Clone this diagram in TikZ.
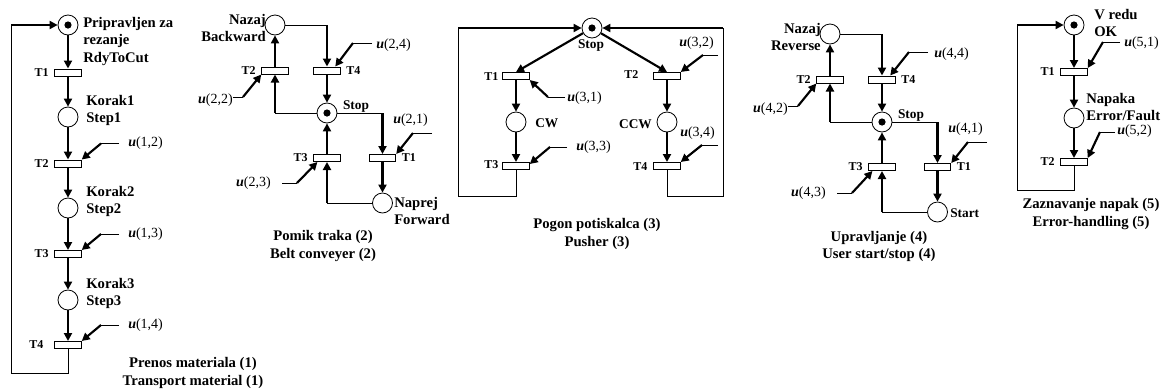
\documentclass[tikz,border=0pt]{standalone}
\usepackage{fontspec}
\setmainfont{Liberation Serif}
\usetikzlibrary{arrows.meta, positioning, calc}

\newcommand{\uvar}[1]{\textbf{\textit{u}}(#1)}

\begin{document}
\begin{tikzpicture}[x=0.75pt, y=-0.75pt,
    place/.style={draw, circle, minimum size=15pt, inner sep=0pt, line width=0.6pt},
    marked/.style={place, path picture={\fill (path picture bounding box.center) circle (2.7pt);}},
    trans/.style={draw, rectangle, minimum width=20pt, minimum height=5.4pt, inner sep=0pt, line width=0.6pt},
    flow/.style={line width=1.6pt, -{Triangle[length=6pt, width=6pt]}},
    link/.style={line width=0.6pt},
    tlab/.style={font=\bfseries\fontsize{9}{10}\selectfont, inner sep=1pt},
    plab/.style={font=\bfseries\fontsize{11}{13}\selectfont, align=left, inner sep=0pt},
    slab/.style={font=\bfseries\fontsize{10}{12}\selectfont, inner sep=0pt},
    ulab/.style={font=\fontsize{10.5}{12}\selectfont, inner sep=0pt},
    netname/.style={font=\bfseries\fontsize{11}{13}\selectfont, align=center, inner sep=0pt},
    label distance=3pt
]
\useasboundingbox (0,0) rectangle (1168,390);

% Transport material (1)
\node[marked] (n1_p1) at (68,25) {};
\node[plab, anchor=north west] (n1_l1) at (83,17) {Pripravljen za\\rezanje\\RdyToCut};
\node[trans, label={[tlab]left:T1}] (n1_t1) at (68,72.5) {};
\node[place] (n1_p2) at (68,117) {};
\node[plab, anchor=north west] (n1_l2) at (86,95) {Korak1\\Step1};
\node[trans, label={[tlab]left:T2}] (n1_t2) at (68,163.5) {};
\node[place] (n1_p3) at (68,208) {};
\node[plab, anchor=north west] (n1_l3) at (86,186) {Korak2\\Step2};
\node[trans, label={[tlab]left:T3}] (n1_t3) at (68,254) {};
\node[place] (n1_p4) at (68,300) {};
\node[plab, anchor=north west] (n1_l4) at (86,278) {Korak3\\Step3};
\node[trans, label={[tlab, label distance=7pt]left:T4}] (n1_t4) at (68,345) {};
\draw[flow] (n1_p1) -- (n1_t1);
\draw[flow] (n1_t1) -- (n1_p2);
\draw[flow] (n1_p2) -- (n1_t2);
\draw[flow] (n1_t2) -- (n1_p3);
\draw[flow] (n1_p3) -- (n1_t3);
\draw[flow] (n1_t3) -- (n1_p4);
\draw[flow] (n1_p4) -- (n1_t4);
% inputs u(1,j)
\foreach \i in {2,3,4} {
    \node[ulab, anchor=west] (n1_u\i) at ($(n1_t\i)+(60,-20)$) {\uvar{1,\i}};
    \coordinate (n1_e\i) at ($(n1_t\i)+(51,-20)$);
    \coordinate (n1_k\i) at ($(n1_t\i)+(33,-20)$);
    \draw[link] (n1_e\i) -- (n1_k\i);
    \draw[flow] (n1_k\i) -- (n1_t\i.north east);
}
% return loop
\coordinate (n1_lb) at (11,373);
\coordinate (n1_lt) at (11,25);
\draw[link] (n1_t4.south) |- (n1_lb) -- (n1_lt);
\draw[flow] (n1_lt) -- (n1_p1);
\node[netname] (n1_name) at (193,373) {Prenos materiala (1)\\Transport material (1)};

% Belt conveyer (2)
\begin{scope}[shift={(327,113)}]
\node[marked] (n2_stop) at (0,0) {};
\node[slab] (n2_stopl) at (29,-7) {Stop};
\node[place] (n2_back) at (-52,-88) {};
\node[plab, align=right, anchor=north east] (n2_backl) at (-61,-99) {Nazaj\\Backward};
\node[trans, label={[tlab]left:T2}] (n2_t2) at (-52,-42.5) {};
\node[trans, label={[tlab]right:T4}] (n2_t4) at (0,-42.5) {};
\node[trans, label={[tlab]left:T3}] (n2_t3) at (0,45) {};
\node[trans, label={[tlab]right:T1}] (n2_t1) at (55.5,45) {};
\node[place] (n2_fwd) at (55.5,90) {};
\node[plab, anchor=north west] (n2_fwdl) at (67,84) {Naprej\\Forward};
\draw[link] (n2_back) -- (n2_back -| n2_t4);
\draw[flow] (n2_back -| n2_t4) -- (n2_t4);
\draw[flow] (n2_t2) -- (n2_back);
\draw[flow] (n2_t4) -- (n2_stop);
\draw[link] (n2_stop) -- (n2_stop -| n2_t2);
\draw[flow] (n2_stop -| n2_t2) -- (n2_t2);
\draw[link] (n2_stop) -- (n2_stop -| n2_t1);
\draw[flow] (n2_stop -| n2_t1) -- (n2_t1);
\draw[flow] (n2_t1) -- (n2_fwd);
\draw[link] (n2_fwd) -- (n2_fwd -| n2_t3);
\draw[flow] (n2_fwd -| n2_t3) -- (n2_t3);
\draw[flow] (n2_t3) -- (n2_stop);
% inputs u(2,j)
\node[ulab, anchor=west] (n2_u4) at (49,-68) {\uvar{2,4}};
\coordinate (n2_e4) at (45,-70);
\coordinate (n2_k4) at (26,-70);
\draw[link] (n2_e4) -- (n2_k4);
\draw[flow] (n2_k4) -- ($(n2_t4.north)!0.6!(n2_t4.north east)$);
\node[ulab, anchor=east] (n2_u2) at (-94,-13) {\uvar{2,2}};
\coordinate (n2_e2) at (-94,-16);
\coordinate (n2_k2) at (-84,-16);
\draw[link] (n2_e2) -- (n2_k2);
\draw[flow] (n2_k2) -- (n2_t2.south west);
\node[ulab, anchor=east] (n2_u3) at (-56,70) {\uvar{2,3}};
\coordinate (n2_e3) at (-45,70);
\coordinate (n2_k3) at (-30,70);
\draw[link] (n2_e3) -- (n2_k3);
\draw[flow] (n2_k3) -- ($(n2_t3.south west)!0.3!(n2_t3.south)$);
\node[ulab, anchor=west] (n2_u1) at (66,7) {\uvar{2,1}};
\coordinate (n2_e1) at (105,20);
\coordinate (n2_k1) at (86,20);
\draw[link] (n2_e1) -- (n2_k1);
\draw[flow] (n2_k1) -- (n2_t1.north east);
\node[netname] (n2_name) at (-4,133) {Pomik traka (2)\\Belt conveyer (2)};
\end{scope}

% Pusher (3)
\node[marked] (n3_stop) at (592,28) {};
\node[slab] (n3_stopl) at (591,46) {Stop};
\node[trans] (n3_t1) at (516,76) {};
\node[tlab, anchor=east] (n3_t1l) at (500,77) {T1};
\node[trans] (n3_t2) at (667,76) {};
\node[tlab, anchor=east] (n3_t2l) at (640,75) {T2};
\node[place] (n3_cw) at (516,122) {};
\node[slab, anchor=west] (n3_cwl) at (535,123) {CW};
\node[place] (n3_ccw) at (667,122) {};
\node[slab, anchor=east] (n3_ccwl) at (652,124) {CCW};
\node[trans] (n3_t3) at (516,166) {};
\node[tlab, anchor=east] (n3_t3l) at (500,165) {T3};
\node[trans] (n3_t4) at (667,166) {};
\node[tlab, anchor=east] (n3_t4l) at (649,167) {T4};
\draw[flow] (n3_stop) -- (n3_t1.north);
\draw[flow] (n3_stop) -- (n3_t2.north);
\draw[flow] (n3_t1) -- (n3_cw);
\draw[flow] (n3_cw) -- (n3_t3);
\draw[flow] (n3_t2) -- (n3_ccw);
\draw[flow] (n3_ccw) -- (n3_t4);
% return loops
\coordinate (n3_lb) at (458,196);
\coordinate (n3_lt) at (458,28);
\coordinate (n3_rb) at (723,196);
\coordinate (n3_rt) at (723,28);
\draw[link] (n3_t3.south) |- (n3_lb) -- (n3_lt);
\draw[flow] (n3_lt) -- (n3_stop);
\draw[link] (n3_t4.south) |- (n3_rb) -- (n3_rt);
\draw[flow] (n3_rt) -- (n3_stop);
% inputs u(3,j)
\node[ulab, anchor=west] (n3_u1) at (567,98) {\uvar{3,1}};
\coordinate (n3_e1) at (565,97);
\coordinate (n3_k1) at (548,97);
\draw[link] (n3_e1) -- (n3_k1);
\draw[flow] (n3_k1) -- (n3_t1.south east);
\node[ulab, anchor=west] (n3_u2) at (679,43) {\uvar{3,2}};
\coordinate (n3_e2) at (718,55);
\coordinate (n3_k2) at (703,55);
\draw[link] (n3_e2) -- (n3_k2);
\draw[flow] (n3_k2) -- (n3_t2.north east);
\node[ulab, anchor=west] (n3_u3) at (576,147) {\uvar{3,3}};
\coordinate (n3_e3) at (567,147);
\coordinate (n3_k3) at (550,147);
\draw[link] (n3_e3) -- (n3_k3);
\draw[flow] (n3_k3) -- ($(n3_t3.east)!0.5!(n3_t3.north east)$);
\node[ulab, anchor=west] (n3_u4) at (680,133) {\uvar{3,4}};
\coordinate (n3_e4) at (718,145);
\coordinate (n3_k4) at (702,145);
\draw[link] (n3_e4) -- (n3_k4);
\draw[flow] (n3_k4) -- (n3_t4.north east);
\node[netname] (n3_name) at (597,234) {Pogon potiskalca (3)\\Pusher (3)};

% User start/stop (4)
\begin{scope}[shift={(882,122)}]
\node[marked] (n4_stop) at (0,0) {};
\node[slab] (n4_stopl) at (29,-7) {Stop};
\node[place] (n4_back) at (-52,-88) {};
\node[plab, align=right, anchor=north east] (n4_backl) at (-61,-99) {Nazaj\\Reverse};
\node[trans, label={[tlab]left:T2}] (n4_t2) at (-52,-42.5) {};
\node[trans, label={[tlab]right:T4}] (n4_t4) at (0,-42.5) {};
\node[trans, label={[tlab]left:T3}] (n4_t3) at (0,45) {};
\node[trans, label={[tlab]right:T1}] (n4_t1) at (55.5,45) {};
\node[place] (n4_start) at (55.5,90) {};
\node[slab, anchor=west] (n4_startl) at (68,91) {Start};
\draw[link] (n4_back) -- (n4_back -| n4_t4);
\draw[flow] (n4_back -| n4_t4) -- (n4_t4);
\draw[flow] (n4_t2) -- (n4_back);
\draw[flow] (n4_t4) -- (n4_stop);
\draw[link] (n4_stop) -- (n4_stop -| n4_t2);
\draw[flow] (n4_stop -| n4_t2) -- (n4_t2);
\draw[link] (n4_stop) -- (n4_stop -| n4_t1);
\draw[flow] (n4_stop -| n4_t1) -- (n4_t1);
\draw[flow] (n4_t1) -- (n4_start);
\draw[link] (n4_start) -- (n4_start -| n4_t3);
\draw[flow] (n4_start -| n4_t3) -- (n4_t3);
\draw[flow] (n4_t3) -- (n4_stop);
% inputs u(4,j)
\node[ulab, anchor=west] (n4_u4) at (52,-68) {\uvar{4,4}};
\coordinate (n4_e4) at (46,-70);
\coordinate (n4_k4) at (27,-70);
\draw[link] (n4_e4) -- (n4_k4);
\draw[flow] (n4_k4) -- ($(n4_t4.north)!0.6!(n4_t4.north east)$);
\node[ulab, anchor=east] (n4_u2) at (-94,-13) {\uvar{4,2}};
\coordinate (n4_e2) at (-94,-16);
\coordinate (n4_k2) at (-84,-16);
\draw[link] (n4_e2) -- (n4_k2);
\draw[flow] (n4_k2) -- (n4_t2.south west);
\node[ulab, anchor=east] (n4_u3) at (-56,71) {\uvar{4,3}};
\coordinate (n4_e3) at (-45,71);
\coordinate (n4_k3) at (-30,71);
\draw[link] (n4_e3) -- (n4_k3);
\draw[flow] (n4_k3) -- ($(n4_t3.south west)!0.3!(n4_t3.south)$);
\node[ulab, anchor=west] (n4_u1) at (66,7) {\uvar{4,1}};
\coordinate (n4_e1) at (105,20);
\coordinate (n4_k1) at (86,20);
\draw[link] (n4_e1) -- (n4_k1);
\draw[flow] (n4_k1) -- (n4_t1.north east);
\node[netname] (n4_name) at (-3,124.5) {Upravljanje (4)\\User start/stop (4)};
\end{scope}

% Error-handling (5)
\node[marked] (n5_ok) at (1074,25) {};
\node[plab, anchor=north west] (n5_okl) at (1094,9) {V redu\\OK};
\node[trans, label={[tlab]left:T1}] (n5_t1) at (1074,72) {};
\node[place] (n5_err) at (1074,118) {};
\node[plab, anchor=north west] (n5_errl) at (1086,93) {Napaka\\Error/Fault};
\node[trans, label={[tlab]left:T2}] (n5_t2) at (1074,162) {};
\draw[flow] (n5_ok) -- (n5_t1);
\draw[flow] (n5_t1) -- (n5_err);
\draw[flow] (n5_err) -- (n5_t2);
% inputs u(5,j)
\node[ulab, anchor=west] (n5_u1) at (1124,43) {\uvar{5,1}};
\coordinate (n5_e1) at (1120,42);
\coordinate (n5_k1) at (1103,42);
\draw[link] (n5_e1) -- (n5_k1);
\draw[flow] (n5_k1) -- (n5_t1.north east);
\node[ulab, anchor=west] (n5_u2) at (1117,131) {\uvar{5,2}};
\coordinate (n5_e2) at (1115,132);
\coordinate (n5_k2) at (1100,132);
\draw[link] (n5_e2) -- (n5_k2);
\draw[flow] (n5_k2) -- (n5_t2.north east);
% return loop
\coordinate (n5_lb) at (1017,190);
\coordinate (n5_lt) at (1017,25);
\draw[link] (n5_t2.south) |- (n5_lb) -- (n5_lt);
\draw[flow] (n5_lt) -- (n5_ok);
\node[netname] (n5_name) at (1091,214) {Zaznavanje napak (5)\\Error-handling (5)};

\end{tikzpicture}
\end{document}
